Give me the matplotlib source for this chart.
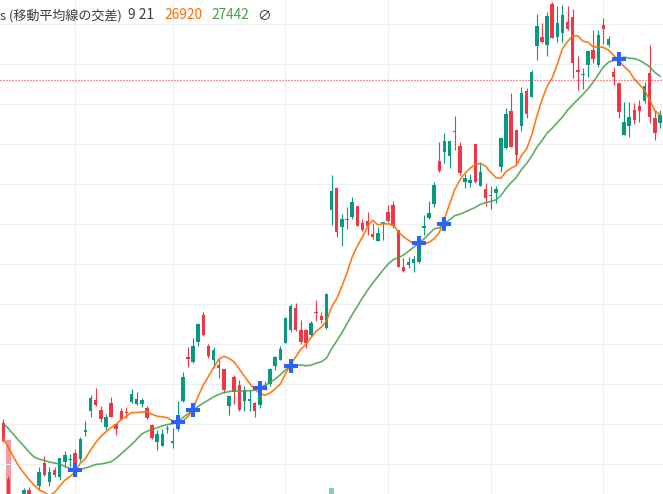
import numpy as np
import pandas as pd
import matplotlib
matplotlib.use("Agg")
import matplotlib.pyplot as plt

# ---------------- data (daily bars) ----------------
opens = [24007, 23450, 23190, 23090, 23190, 23340, 23160, 23383, 23607, 23417, 23543, 23473, 23617, 23640, 23707, 23650, 23917, 24133, 24240, 24140, 23967,
         24207, 24000, 24130, 24113, 24223, 24197, 24197, 24163, 23990, 23823, 23783, 23947, 23807, 23957, 24235, 24673, 24623, 24823, 25095, 24780, 24637,
         24590, 24555, 24180, 24475, 24390, 24232, 24232, 24210, 24190, 24343, 24400, 24580, 24643, 24813, 24937, 25160, 24940, 24940, 24890, 25120, 25080, 24957,
         26140, 26363, 25973, 26053, 26067, 26183, 26013, 26030, 25900, 25833, 26013, 26117, 26190, 25940, 25567, 25590, 25607, 25623,
         25960, 26057, 26200, 26630, 26723, 26683, 26933, 26780, 26423, 26415, 26798, 26383, 26353, 26280, 26307, 26573, 26763, 27127, 26940,
         26983, 27333, 27273, 27783, 27873, 27793, 28200, 27873, 27913, 28023, 28073, 27540, 27490, 27590, 27740, 27593, 27990, 27790, 27523, 27407,
         26890, 26980, 27140, 27180, 27233, 27507, 27057, 27007]
highs = [24050, 23483, 23240, 23210, 23360, 23370, 23260, 23567, 23683, 23567, 23567, 23660, 23727, 23700, 23750, 23867, 24033, 24293, 24357, 24183, 24100,
         24267, 24013, 24157, 24173, 24350, 24320, 24257, 24180, 24000, 23940, 23947, 23990, 23957, 24233, 24523, 24770, 24857, 25010, 25117, 24805, 24770,
         24660, 24555, 24290, 24490, 24440, 24385, 24345, 24223, 24390, 24430, 24565, 24685, 24785, 25073, 25200, 25213, 25040, 24947, 25035, 25240, 25123, 25307,
         26490, 26373, 26097, 26167, 26267, 26183, 26047, 26117, 26007, 25967, 26023, 26190, 26230, 25940, 25657, 25667, 25680, 25867,
         26090, 26235, 26423, 26823, 26913, 26830, 27083, 26823, 26500, 26500, 26805, 26607, 26412, 26380, 26380, 26870, 27162, 27313, 26940,
         27367, 27360, 27543, 28100, 28010, 28120, 28223, 28180, 28190, 28180, 28147, 27680, 27557, 27730, 27940, 27940, 28060, 27880, 27573, 27407,
         27223, 27223, 27207, 27240, 27423, 27790, 27140, 27140]
lows = [23825, 23120, 23040, 23040, 23160, 23100, 23040, 23350, 23480, 23383, 23473, 23440, 23573, 23567, 23540, 23633, 23883, 24067, 24183, 24017, 23940,
        24067, 23890, 24040, 24057, 24207, 24190, 24173, 24050, 23850, 23740, 23783, 23913, 23757, 23935, 24220, 24573, 24607, 24780, 24880, 24665, 24560,
        24465, 24315, 24090, 24205, 24130, 24130, 24130, 24073, 24160, 24340, 24385, 24545, 24637, 24813, 24923, 24935, 24805, 24765, 24880, 25035, 25007, 24947,
        25990, 25873, 25780, 25947, 26050, 25983, 25933, 25890, 25850, 25833, 25840, 26023, 25957, 25573, 25523, 25557, 25523, 25607,
        25890, 26050, 26173, 26523, 26607, 26560, 26740, 26487, 26357, 26367, 26410, 26378, 26177, 26152, 26207, 26520, 26750, 26770, 26590,
        26933, 27057, 27273, 27640, 27815, 27677, 27857, 27823, 27823, 27940, 27457, 27337, 27347, 27473, 27610, 27573, 27800, 27773, 27390, 27057,
        26890, 26873, 27000, 27017, 27213, 27007, 26840, 26960]
closes = [23833, 23190, 23090, 23160, 23340, 23140, 23090, 23517, 23493, 23523, 23493, 23660, 23690, 23653, 23583, 23850, 23940, 24260, 24190, 24050, 24067,
          24073, 23947, 24047, 24107, 24297, 24250, 24240, 24057, 23857, 23897, 23897, 23957, 23830, 24050, 24467, 24647, 24780, 24997, 24887, 24680, 24740,
          24557, 24345, 24280, 24323, 24140, 24345, 24255, 24133, 24373, 24390, 24547, 24670, 24747, 25060, 25180, 24940, 24820, 24807, 25013, 25112, 25040, 25297,
          26330, 25923, 26050, 26043, 26217, 25983, 25940, 25983, 25873, 25913, 26023, 26033, 25980, 25573, 25533, 25623, 25650, 25850,
          25980, 26107, 26390, 26530, 26830, 26830, 26922, 26507, 26465, 26440, 26425, 26520, 26265, 26290, 26348, 26862, 27100, 26775, 26687,
          27310, 27103, 27523, 27980, 27823, 28083, 27863, 28013, 28087, 27953, 27607, 27517, 27500, 27730, 27653, 27890, 27950, 27847, 27473, 27123,
          27023, 27067, 27040, 27130, 27380, 27073, 26907, 27090]

# moving-average settings and the values shown before enough bars exist
ma_lengths = [9, 21]
ma9_head = [23860, 23760, 23670, 23580, 23510, 23445, 23390, 23340]
ma21_head = [24005, 23955, 23895, 23835, 23780, 23720, 23670, 23650, 23635, 23620,
             23610, 23600, 23575, 23555, 23540, 23545, 23560, 23575, 23595, 23600]
legend_values = ["26920", "27442"]

# bars where the MA crossover markers are drawn
cross_bars = [14, 34, 37, 50, 56, 81, 86, 120]

# the only two volume columns reaching into view
vol_bars = [1, 64]
vol_values = [54, 6]

price_line = 27440
month_start_bars = [14, 33, 55, 75, 95, 117]
grid_prices = list(range(23600, 28001, 400))

# ---------------- figure ----------------
W, H = 663, 494
fig = plt.figure(figsize=(W / 100, H / 100), dpi=100)
fig.patch.set_facecolor("white")
ax = fig.add_axes([0, 0, 1, 1])
axv = ax.twinx()

UP, DN = "#089981", "#F23645"
o = np.array(opens, float); h = np.array(highs, float)
l = np.array(lows, float); c = np.array(closes, float)
n = len(c)
x = np.arange(n)
up = c >= o
cols = np.where(up, UP, DN)

# volume (behind the price pane)
axv.bar(vol_bars, vol_values, width=0.95,
        color=[UP if up[i] else DN for i in vol_bars], alpha=0.5, linewidth=0)
axv.set_ylim(0, 494)
axv.set_axis_off()
ax.set_zorder(axv.get_zorder() + 1)
ax.patch.set_visible(False)

# grid
ax.set_xlim(-0.643, 128.6)
ax.set_ylim(23300, 28240)
ax.set_xticks(month_start_bars)
ax.set_yticks(grid_prices)
ax.grid(True, color="#EDEFF3", linewidth=0.75)
ax.set_axisbelow(True)
ax.tick_params(which="both", length=0, labelleft=False, labelbottom=False,
               labelright=False, labeltop=False)
for s in ax.spines.values():
    s.set_visible(False)

# candles
hi = np.maximum(h, np.maximum(o, c))
lo = np.minimum(l, np.minimum(o, c))
ax.vlines(x, lo, hi, colors=cols, linewidth=0.8, zorder=2)
ax.bar(x, np.maximum(np.abs(c - o), 10), bottom=np.minimum(o, c), width=0.68,
       color=cols, linewidth=0, zorder=3)

# moving averages
cs = pd.Series(c)
ma9 = cs.rolling(ma_lengths[0]).mean().to_numpy()
ma9[:len(ma9_head)] = ma9_head
ma21 = cs.rolling(ma_lengths[1]).mean().to_numpy()
ma21[:len(ma21_head)] = ma21_head
ax.plot(x, ma21, color="#43A047", linewidth=1.2, alpha=0.85, zorder=4)
ax.plot(x, ma9, color="#FF6D00", linewidth=1.2, alpha=0.9, zorder=4)

# crossover markers
ax.plot(cross_bars, ma21[cross_bars], linestyle="none", marker="P", markersize=9.5,
        color="#2962FF", markeredgewidth=0, zorder=6)

# price line
ax.axhline(price_line, color=DN, linewidth=0.8, linestyle=(0, (1, 1.7)), zorder=5)

# legend text
fam = ["Noto Sans CJK JP", "DejaVu Sans"]
def px(xp, yp):
    return xp / W, 1 - yp / H
items = [
    (0, "s (移動平均線の交差)", "#363A45", 9.4),
    (128, f"{ma_lengths[0]} {ma_lengths[1]}", "#363A45", 9.9),
    (164, legend_values[0], "#FF6D00", 9.9),
    (211, legend_values[1], "#43A047", 9.9),
    (257, "∅", "#363A45", 9.9),
]
for xp, t, col, fs in items:
    fx, fy = px(xp, 19.3)
    fig.text(fx, fy, t, color=col, fontsize=fs, family=fam, va="baseline", ha="left")

fig.savefig("out.png", dpi=100, facecolor="white")
